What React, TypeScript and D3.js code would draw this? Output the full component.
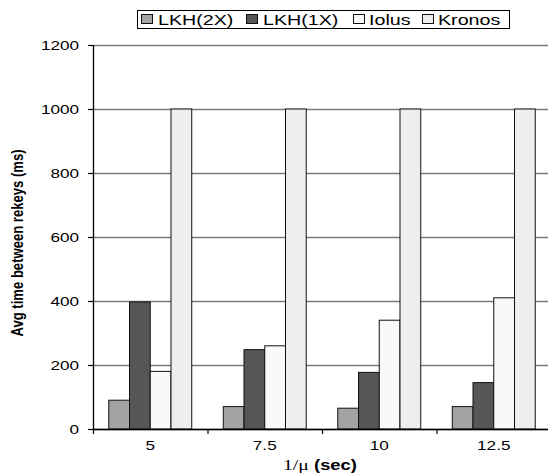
import React from "react";
import * as d3 from "d3";

const categories = ["5", "7.5", "10", "12.5"];
const seriesNames = ["LKH(2X)", "LKH(1X)", "Iolus", "Kronos"];
const lkh2x = [90, 70, 65, 70];
const lkh1x = [397, 248, 177, 145];
const iolus = [180, 260, 340, 410];
const kronos = [1000, 1000, 1000, 1000];
const yTicks = [0, 200, 400, 600, 800, 1000, 1200];

const seriesValues = [lkh2x, lkh1x, iolus, kronos];
const seriesFill = ["#a3a3a3", "#565656", "#f9f9f9", "#eeeeee"];

const W = 548;
const H = 475;
const left = 93;
const right = 551;
const top = 45;
const bottom = 429;
// text in this chart is drawn horizontally widened
const SX = 1.27;

function WideText(props: {
  x: number;
  y: number;
  anchor?: "start" | "middle" | "end";
  size: number;
  weight?: string;
  children: React.ReactNode;
}) {
  const { x, y, anchor = "start", size, weight, children } = props;
  return (
    <text
      transform={`translate(${x},${y}) scale(${SX},1)`}
      textAnchor={anchor}
      fontSize={size}
      fontWeight={weight}
      fill="#000"
    >
      {children}
    </text>
  );
}

export default function App() {
  const x = d3.scaleBand<string>().domain(categories).range([left, right]).padding(0);
  const inner = d3
    .scaleBand<string>()
    .domain(seriesNames)
    .range([0, x.bandwidth()])
    .paddingInner(0)
    .paddingOuter(0.76);
  const y = d3.scaleLinear().domain([0, 1200]).range([bottom, top]);

  const font = "'Liberation Sans', Arial, Helvetica, sans-serif";

  // legend layout
  const legendItems = [
    { sw: 141, tx: 158 },
    { sw: 246, tx: 263 },
    { sw: 353, tx: 369 },
    { sw: 422, tx: 438 },
  ];

  return (
    <svg
      width={W}
      height={H}
      style={{ position: "absolute", left: 0, top: 0, background: "#fff" }}
      fontFamily={font}
    >
      {/* horizontal gridlines */}
      {yTicks.map((t) => (
        <line
          key={"g" + t}
          x1={left}
          x2={W}
          y1={y(t) + 0.5}
          y2={y(t) + 0.5}
          stroke="#7a7a7a"
          strokeWidth={1.3}
        />
      ))}

      {/* bars */}
      {categories.map((c, ci) =>
        seriesNames.map((s, si) => {
          const v = seriesValues[si][ci];
          const bx = (x(c) as number) + (inner(s) as number);
          return (
            <rect
              key={c + s}
              x={bx}
              y={y(v)}
              width={inner.bandwidth()}
              height={y(0) - y(v)}
              fill={seriesFill[si]}
              stroke="#111"
              strokeWidth={1}
            />
          );
        })
      )}

      {/* y axis */}
      <line x1={left + 0.5} x2={left + 0.5} y1={top} y2={bottom} stroke="#000" strokeWidth={1.3} />
      {yTicks.map((t) => (
        <g key={"t" + t}>
          <line x1={left - 5} x2={left} y1={y(t) + 0.5} y2={y(t) + 0.5} stroke="#000" strokeWidth={1.2} />
          <WideText x={79} y={y(t) + 5} anchor="end" size={13.5}>
            {t}
          </WideText>
        </g>
      ))}

      {/* x axis */}
      <line x1={left} x2={W} y1={bottom + 0.5} y2={bottom + 0.5} stroke="#000" strokeWidth={1.3} />
      {categories.map((c) => (
        <g key={"x" + c}>
          <line
            x1={(x(c) as number) + 0.5}
            x2={(x(c) as number) + 0.5}
            y1={bottom}
            y2={bottom + 5}
            stroke="#000"
            strokeWidth={1.2}
          />
          <WideText x={(x(c) as number) + x.bandwidth() / 2} y={bottom + 20.5} anchor="middle" size={13.5}>
            {c}
          </WideText>
        </g>
      ))}

      {/* axis titles */}
      <text
        transform={`translate(23, ${(top + bottom) / 2 + 6}) scale(${SX},1) rotate(-90)`}
        textAnchor="middle"
        fontSize={13.5}
        fontWeight="bold"
        textLength={187}
        lengthAdjust="spacingAndGlyphs"
        fill="#000"
      >
        Avg time between rekeys (ms)
      </text>
      <WideText x={320} y={470} anchor="middle" size={14.5}>
        <tspan fontFamily="'Liberation Serif', 'Times New Roman', serif" fontSize={15.5}>1/μ</tspan>
        <tspan fontWeight="bold"> (sec)</tspan>
      </WideText>

      {/* legend */}
      <rect x={137.5} y={10.5} width={372} height={18} fill="#fff" stroke="#000" strokeWidth={1} />
      {seriesNames.map((s, i) => (
        <g key={"l" + s}>
          <rect
            x={legendItems[i].sw + 0.5}
            y={14.5}
            width={11}
            height={9}
            fill={seriesFill[i]}
            stroke="#111"
            strokeWidth={1}
          />
          <WideText x={legendItems[i].tx} y={25} size={15.5}>
            {s}
          </WideText>
        </g>
      ))}
    </svg>
  );
}
